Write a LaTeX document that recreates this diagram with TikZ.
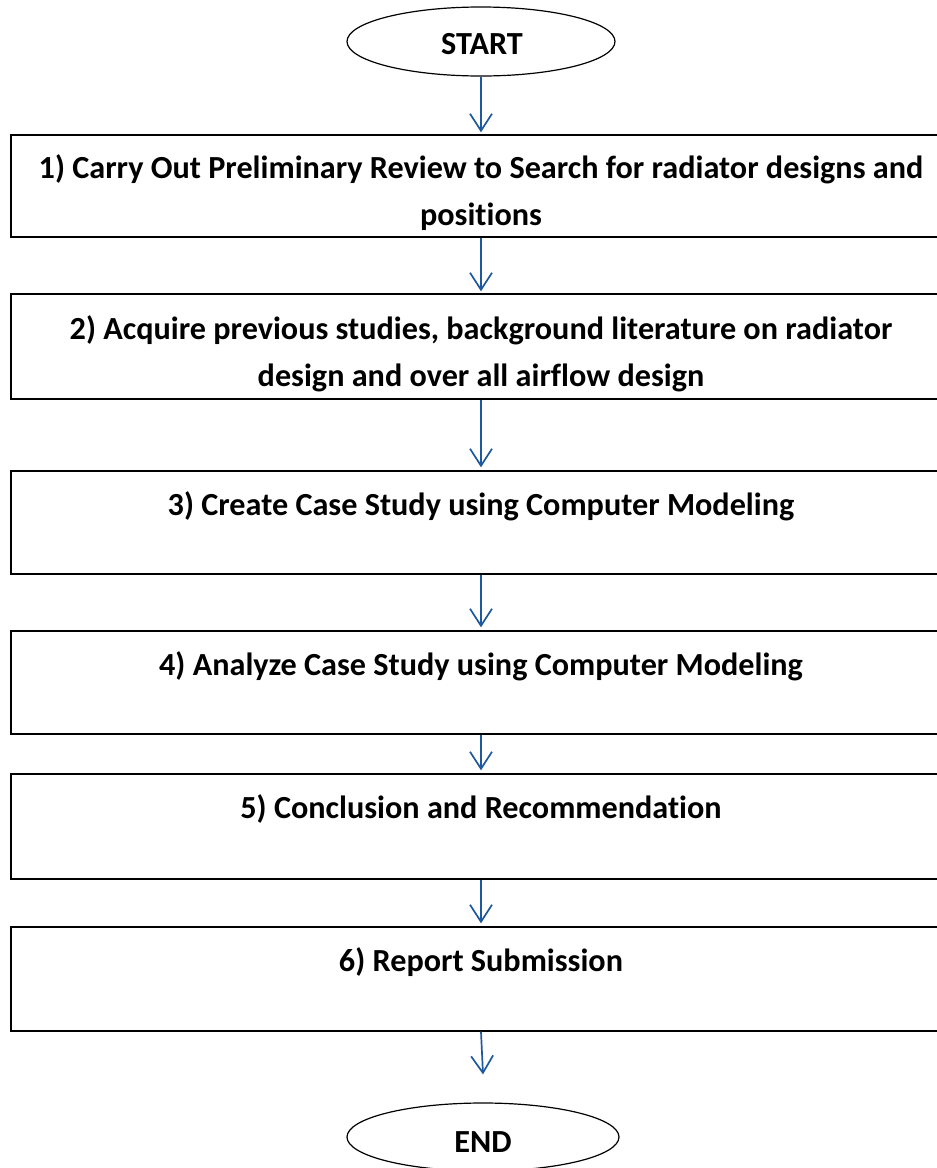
\documentclass[tikz,border=0pt]{standalone}
\usepackage{fontspec}
\setmainfont{Carlito}[Ligatures=NoCommon]
\usetikzlibrary{arrows.meta,shapes.geometric}
\definecolor{flowblue}{RGB}{30,88,158}
\tikzset{
  stepbox/.style={draw=black, line width=1.4pt, rectangle, minimum width=940pt, inner sep=0pt},
  terminal/.style={draw=black, line width=1.2pt, ellipse, inner sep=0pt},
  steptext/.style={anchor=base, align=center, inner sep=0pt,
    font=\fontsize{32.2}{47}\selectfont\bfseries},
  flow/.style={draw=flowblue, line width=1.7pt, -{Straight Barb[length=17pt,width=22pt,line width=1.7pt]}}
}
\begin{document}
\begin{tikzpicture}[x=1pt,y=-1pt]
  \useasboundingbox (0,0) rectangle (937,1168);
  \clip (0,0) rectangle (937,1168);

  % terminals
  \node[terminal, minimum width=268pt, minimum height=69pt] (start) at (481,41.5) {};
  \node[steptext] (starttxt) at (482,54) {START};

  \node[terminal, minimum width=272pt, minimum height=68pt] (end) at (483,1137) {};
  \node[steptext] (endtxt) at (483,1152) {END};

  % process boxes
  \node[stepbox, minimum height=102pt] (s1) at (481,186) {};
  \node[stepbox, minimum height=105pt] (s2) at (481,346.5) {};
  \node[stepbox, minimum height=103pt] (s3) at (481,522.5) {};
  \node[stepbox, minimum height=103pt] (s4) at (481,682.5) {};
  \node[stepbox, minimum height=105pt] (s5) at (481,826.5) {};
  \node[stepbox, minimum height=104pt] (s6) at (481,979) {};

  % step labels (base anchor sits on the last line)
  \node[steptext] (t1) at (481,225) {1) Carry Out Preliminary Review to Search for radiator designs and\\positions};
  \node[steptext] (t2) at (481,386) {2) Acquire previous studies, background literature on radiator\\design and over all airflow design};
  \node[steptext] (t3) at (481,515) {3) Create Case Study using Computer Modeling};
  \node[steptext] (t4) at (481,675) {4) Analyze Case Study using Computer Modeling};
  \node[steptext] (t5) at (481,818) {5) Conclusion and Recommendation};
  \node[steptext] (t6) at (481,971) {6) Report Submission};

  % connectors
  \draw[flow] (start.south) -- ([yshift=2pt]s1.north);
  \draw[flow] (s1.south) -- ([yshift=2pt]s2.north);
  \draw[flow] (s2.south) -- ([yshift=3pt]s3.north);
  \draw[flow] (s3.south) -- ([yshift=3pt]s4.north);
  \draw[flow] (s4.south) -- ([yshift=3pt]s5.north);
  \draw[flow] (s5.south) -- ([yshift=3pt]s6.north);
  \draw[flow] (s6.south) -- ([yshift=28pt]end.north);
\end{tikzpicture}
\end{document}
